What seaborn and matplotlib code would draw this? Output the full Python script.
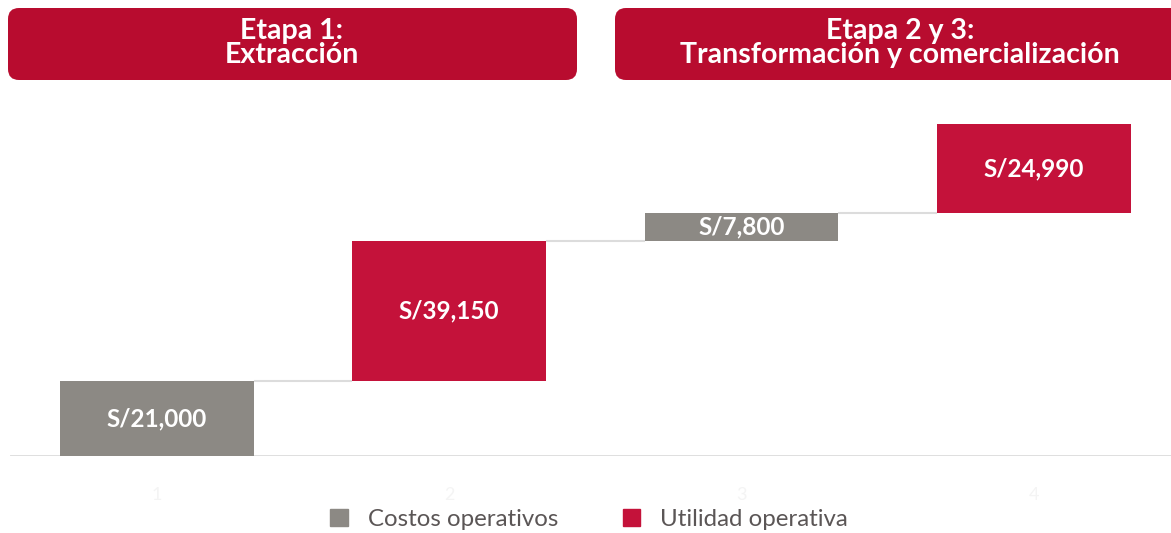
import numpy as np
import pandas as pd
import matplotlib.pyplot as plt
from matplotlib.patches import FancyBboxPatch, Patch
import seaborn as sns

# data
steps = ['1', '2', '3', '4']
values = [21000, 39150, 7800, 24990]
kinds = ['Costos operativos', 'Utilidad operativa', 'Costos operativos', 'Utilidad operativa']
bar_labels = ['S/21,000', 'S/39,150', 'S/7,800', 'S/24,990']
stage_titles = ['Etapa 1:\nExtracción', 'Etapa 2 y 3:\nTransformación y comercialización']

colors = {'Costos operativos': '#8c8984', 'Utilidad operativa': '#c4123a'}
header_color = '#b80c2f'
line_color = '#dcdcdc'

ends = np.cumsum(values)
starts = ends - np.array(values)
df = pd.DataFrame({'step': steps, 'value': values, 'start': starts, 'end': ends, 'kind': kinds})

sns.set_theme(style='white')
plt.rcParams['font.family'] = ['Lato', 'DejaVu Sans']

fig = plt.figure(figsize=(11.71, 5.33), dpi=100)
ax = fig.add_axes([10 / 1171, 77 / 533, 1161 / 1171, 357 / 533])
ax.set_facecolor('none')

bw = 0.663
sns.barplot(data=df, x='step', y='end', order=steps, color='#888888', width=bw,
            ax=ax, errorbar=None, zorder=3)
# turn the bars into floating waterfall bars
for p, (_, r) in zip(ax.patches, df.iterrows()):
    p.set_y(r['start'])
    p.set_height(r['value'])
    p.set_facecolor(colors[r['kind']])
    p.set_edgecolor('none')

for i, r in df.iterrows():
    ax.text(i, r['start'] + r['value'] / 2, bar_labels[i], ha='center', va='center',
            color='white', fontsize=17.5, fontweight='bold', zorder=4)

# connectors
for i in range(len(steps) - 1):
    ax.hlines(ends[i], i + bw / 2, i + 1 - bw / 2, color=line_color, lw=1.5, zorder=2)
ax.axhline(0, color=line_color, lw=2, zorder=2)

ax.set_xlim(-0.503, 3.47)
ax.set_ylim(0, 100000)
ax.set_xlabel('')
ax.set_ylabel('')
ax.set_yticks([])
ax.tick_params(axis='x', length=0, pad=22, labelsize=13, labelcolor='#f4f4f4')
sns.despine(ax=ax, left=True, bottom=True)

# legend
handles = [Patch(color=colors[k]) for k in ['Costos operativos', 'Utilidad operativa']]
fig.legend(handles, ['Costos operativos', 'Utilidad operativa'], loc='center',
           bbox_to_anchor=(0.503, 0.026), ncol=2, frameon=False, fontsize=17.3,
           labelcolor='#5b5656', handlelength=0.72, handleheight=0.72,
           handletextpad=0.83, columnspacing=2.7)

# stage headers
top = fig.add_axes([0, 0, 1, 1], zorder=-1)
top.set_xlim(0, 1171)
top.set_ylim(533, 0)
top.axis('off')
boxes = [(8, 569), (615, 580)]
for (x0, w), title in zip(boxes, stage_titles):
    top.add_patch(FancyBboxPatch((x0, 8), w, 72, boxstyle='round,pad=0,rounding_size=11',
                                 fc=header_color, ec='none'))
cx = [292, 900]
for c, title in zip(cx, stage_titles):
    top.text(c, 43, title, ha='center', va='center', color='white', fontsize=20.5,
             fontweight='bold', linespacing=0.9)

fig.savefig('out.png', dpi=100)
